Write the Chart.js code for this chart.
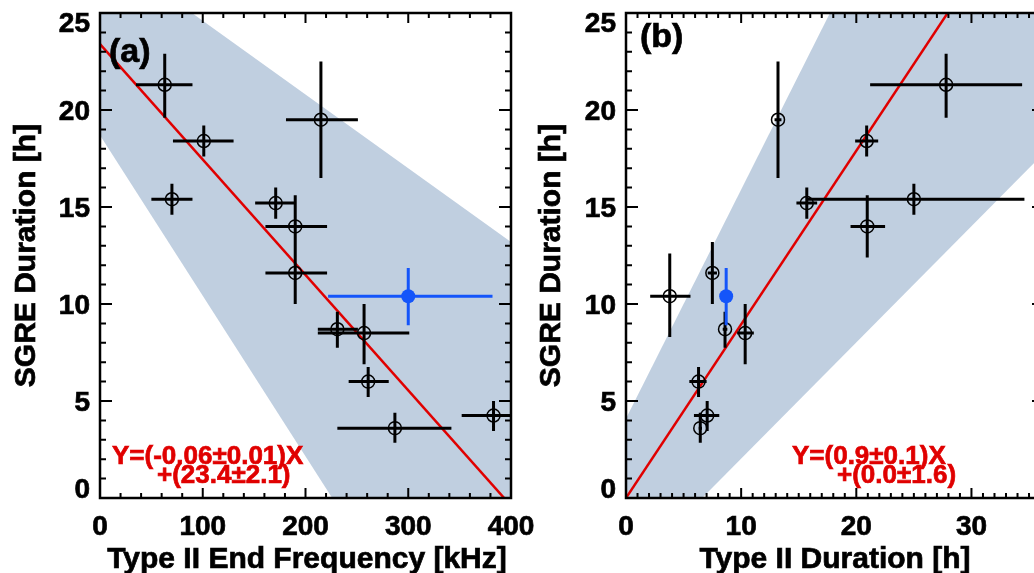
<!DOCTYPE html>
<html>
<head>
<meta charset="utf-8">
<script src="https://cdn.jsdelivr.net/npm/chart.js@4.4.0/dist/chart.umd.min.js"></script>
<style>
html, body { margin: 0; padding: 0; background: #fff; overflow: hidden; width: 1034px; height: 573px; }
canvas { position: absolute; top: 0; }
</style>
</head>
<body>
<canvas id="chartA" width="560" height="573" style="left:0"></canvas>
<canvas id="chartB" width="560" height="573" style="left:517px"></canvas>
<script>
// panel (a): SGRE duration vs type II end frequency
var endFreq   = [63, 101, 70, 215, 171, 190, 190, 231, 257, 261, 287, 383];
var endFreqLo = [35, 71, 50, 181, 151, 161, 161, 212, 212, 242, 231, 352];
var endFreqHi = [90, 130, 90, 251, 190, 221, 221, 251, 301, 281, 342, 420];
var sgreA     = [21.3, 18.4, 15.4, 19.5, 15.2, 14.0, 11.6, 8.7, 8.5, 6.0, 3.6, 4.25];
var sgreALo   = [19.6, 17.6, 14.6, 16.5, 14.4, 12.4, 10.0, 7.75, 6.9, 5.2, 2.85, 3.45];
var sgreAHi   = [22.9, 19.2, 16.2, 22.5, 16.0, 15.6, 13.2, 9.6, 10.0, 6.75, 4.4, 5.0];

// panel (b): SGRE duration vs type II duration
var t2Dur   = [27.8, 20.9, 25.0, 13.2, 15.7, 20.95, 7.5, 8.6, 10.35, 6.3, 6.45, 7.05, 3.8];
var t2DurLo = [21.2, 19.9, 15.7, 12.9, 14.8, 19.5, 7.1, 8.4, 9.65, 5.5, 6.3, 5.9, 2.1];
var t2DurHi = [34.4, 21.9, 34.6, 13.5, 16.6, 22.5, 7.9, 8.8, 11.1, 7.0, 6.6, 8.1, 5.6];
var sgreB   = [21.3, 18.4, 15.4, 19.5, 15.2, 14.0, 11.6, 8.7, 8.5, 6.0, 3.6, 4.25, 10.4];
var sgreBLo = [19.6, 17.6, 14.6, 16.5, 14.4, 12.4, 10.0, 7.75, 6.9, 5.2, 2.85, 3.45, 8.3];
var sgreBHi = [22.9, 19.2, 16.2, 22.5, 16.0, 15.6, 13.2, 9.6, 10.0, 6.75, 4.4, 5.0, 12.6];

// highlighted (blue) event
var blueFreq = [300], blueFreqLo = [222], blueFreqHi = [382];
var blueDur = [8.7], blueDurLo = [8.6], blueDurHi = [8.8];
var blueSgre = [10.4], blueSgreLo = [8.9], blueSgreHi = [11.85];

// fit lines and spread bands (endpoints)
var fitAX = [0, 400], fitAY = [23.4, -0.4];
var bandAX = [0, 400], bandAUp = [28.4, 13.2], bandALow = [18.7, -14.4];
var fitBX = [0, 40], fitBY = [0.0, 35.8];
var bandBX = [0, 40], bandBUp = [4.1, 51.3], bandBLow = [-3.96, 20.0];

// tick labels
var yTicks = [0, 5, 10, 15, 20, 25];
var xTicksA = [0, 100, 200, 300, 400];
var xTicksB = [0, 10, 20, 30];

var FONT = '"Liberation Sans", Arial, Helvetica, sans-serif';
var RED = '#e00000', BLUE = 'rgb(20,85,250)', BAND = '#c0cfe0';

function pts(xs, ys) {
	return xs.map(function(x, i) { return {x: x, y: ys[i]}; });
}

// error bars as broken line segments (null y breaks the line)
function errSegs(xs, ys, xLo, xHi, yLo, yHi) {
	var d = [];
	xs.forEach(function(x, i) {
		d.push({x: xLo[i], y: ys[i]}, {x: xHi[i], y: ys[i]}, {x: x, y: null});
		d.push({x: x, y: yLo[i]}, {x: x, y: yHi[i]}, {x: x, y: null});
	});
	return d;
}

function lineDs(data, color, width, extra) {
	var ds = {
		type: 'line', data: data, borderColor: color, borderWidth: width,
		pointRadius: 0, fill: false, spanGaps: false, borderCapStyle: 'butt', tension: 0
	};
	for (var k in extra) ds[k] = extra[k];
	return ds;
}

// heavier text, closer to the IDL bold look
function boldText(ctx, s, x, y) {
	ctx.strokeStyle = ctx.fillStyle;
	ctx.lineWidth = 0.7;
	ctx.fillText(s, x, y);
	ctx.strokeText(s, x, y);
}

var framePlugin = {
	id: 'frame',
	afterDraw: function(chart, args, o) {
		var ctx = chart.ctx, a = chart.chartArea, xs = chart.scales.x, ys = chart.scales.y;
		ctx.save();
		ctx.strokeStyle = '#000';
		ctx.lineWidth = 2.5;
		ctx.strokeRect(a.left, a.top, a.right - a.left, a.bottom - a.top);
		ctx.lineWidth = 2;
		ctx.beginPath();
		var v, p, len;
		for (v = xs.min; v <= xs.max + 1e-9; v += o.xMinor) {
			p = xs.getPixelForValue(v);
			len = Math.abs(v / o.xMajor - Math.round(v / o.xMajor)) < 1e-6 ? 10 : 5;
			ctx.moveTo(p, a.bottom); ctx.lineTo(p, a.bottom - len);
			ctx.moveTo(p, a.top); ctx.lineTo(p, a.top + len);
		}
		for (v = ys.min; v <= ys.max + 1e-9; v += 1) {
			p = ys.getPixelForValue(v);
			len = v % 5 === 0 ? 12 : 6;
			ctx.moveTo(a.left, p); ctx.lineTo(a.left + len, p);
			ctx.moveTo(a.right, p); ctx.lineTo(a.right - len, p);
		}
		ctx.stroke();

		ctx.fillStyle = '#000';
		ctx.font = 'bold 28px ' + FONT;
		ctx.textAlign = 'right';
		ctx.textBaseline = 'alphabetic';
		yTicks.forEach(function(t) {
			var y = Math.min(Math.max(ys.getPixelForValue(t) + 10, a.top + 19), a.bottom);
			boldText(ctx, String(t), a.left - 10, y);
		});
		ctx.textAlign = 'center';
		o.xTicks.forEach(function(t) {
			boldText(ctx, String(t), xs.getPixelForValue(t), 535);
		});

		ctx.font = 'bold 30px ' + FONT;
		boldText(ctx, o.xTitle, o.xTitleX, 568);
		ctx.save();
		ctx.translate(o.yTitleX, (a.top + a.bottom) / 2);
		ctx.rotate(-Math.PI / 2);
		boldText(ctx, 'SGRE Duration [h]', 0, 0);
		ctx.restore();

		ctx.textAlign = 'left';
		ctx.font = 'bold 34px ' + FONT;
		boldText(ctx, o.label, o.labelX, o.labelY);

		ctx.fillStyle = RED;
		ctx.font = 'bold 26px ' + FONT;
		boldText(ctx, o.eq1, o.eq1X, 464);
		boldText(ctx, o.eq2, o.eq2X, 483);
		ctx.restore();
	}
};

function makeChart(id, c) {
	var ctx = document.getElementById(id).getContext('2d');
	return new Chart(ctx, {
		type: 'scatter',
		data: {
			datasets: [
				{
					type: 'scatter', data: pts(c.bx, c.by), pointRadius: 7,
					pointBackgroundColor: BLUE, pointBorderColor: BLUE, pointBorderWidth: 0
				},
				lineDs(errSegs(c.bx, c.by, c.bxLo, c.bxHi, c.byLo, c.byHi), BLUE, 3),
				{
					type: 'scatter', data: pts(c.x, c.y), pointRadius: 6.5,
					pointBackgroundColor: 'rgba(0,0,0,0)', pointBorderColor: '#000', pointBorderWidth: 1.5
				},
				lineDs(errSegs(c.x, c.y, c.xLo, c.xHi, c.yLo, c.yHi), '#000', 3),
				lineDs(pts(c.fitX, c.fitY), RED, 2.5),
				lineDs(pts(c.bandX, c.bandUp), 'rgba(0,0,0,0)', 0),
				lineDs(pts(c.bandX, c.bandLow), 'rgba(0,0,0,0)', 0, {fill: '-1', backgroundColor: BAND})
			]
		},
		options: {
			responsive: false,
			animation: false,
			layout: {padding: c.padding},
			scales: {
				x: {type: 'linear', display: false, min: 0, max: c.xMax},
				y: {type: 'linear', display: false, min: 0, max: 25}
			},
			plugins: {
				legend: {display: false},
				tooltip: {enabled: false},
				frame: c.frame
			}
		},
		plugins: [framePlugin]
	});
}

window.onload = function() {
	window.chartA = makeChart('chartA', {
		x: endFreq, y: sgreA, xLo: endFreqLo, xHi: endFreqHi, yLo: sgreALo, yHi: sgreAHi,
		bx: blueFreq, by: blueSgre, bxLo: blueFreqLo, bxHi: blueFreqHi, byLo: blueSgreLo, byHi: blueSgreHi,
		fitX: fitAX, fitY: fitAY, bandX: bandAX, bandUp: bandAUp, bandLow: bandALow,
		xMax: 400,
		padding: {left: 100, top: 13, right: 49, bottom: 75},
		frame: {
			xMajor: 100, xMinor: 20, xTicks: xTicksA,
			xTitle: 'Type II End Frequency [kHz]', xTitleX: 307, yTitleX: 35,
			label: '(a)', labelX: 109, labelY: 62,
			eq1: 'Y=(-0.06\u00b10.01)X', eq1X: 112, eq2: '+(23.4\u00b12.1)', eq2X: 157
		}
	});
	window.chartB = makeChart('chartB', {
		x: t2Dur, y: sgreB, xLo: t2DurLo, xHi: t2DurHi, yLo: sgreBLo, yHi: sgreBHi,
		bx: blueDur, by: blueSgre, bxLo: blueDurLo, bxHi: blueDurHi, byLo: blueSgreLo, byHi: blueSgreHi,
		fitX: fitBX, fitY: fitBY, bandX: bandBX, bandUp: bandBUp, bandLow: bandBLow,
		xMax: 36.3,
		padding: {left: 109, top: 13, right: 33, bottom: 75},
		frame: {
			xMajor: 10, xMinor: 1, xTicks: xTicksB,
			xTitle: 'Type II Duration [h]', xTitleX: 318, yTitleX: 43,
			label: '(b)', labelX: 123, labelY: 47,
			eq1: 'Y=(0.9\u00b10.1)X', eq1X: 275, eq2: '+(0.0\u00b11.6)', eq2X: 320
		}
	});
};
</script>
</body>
</html>
